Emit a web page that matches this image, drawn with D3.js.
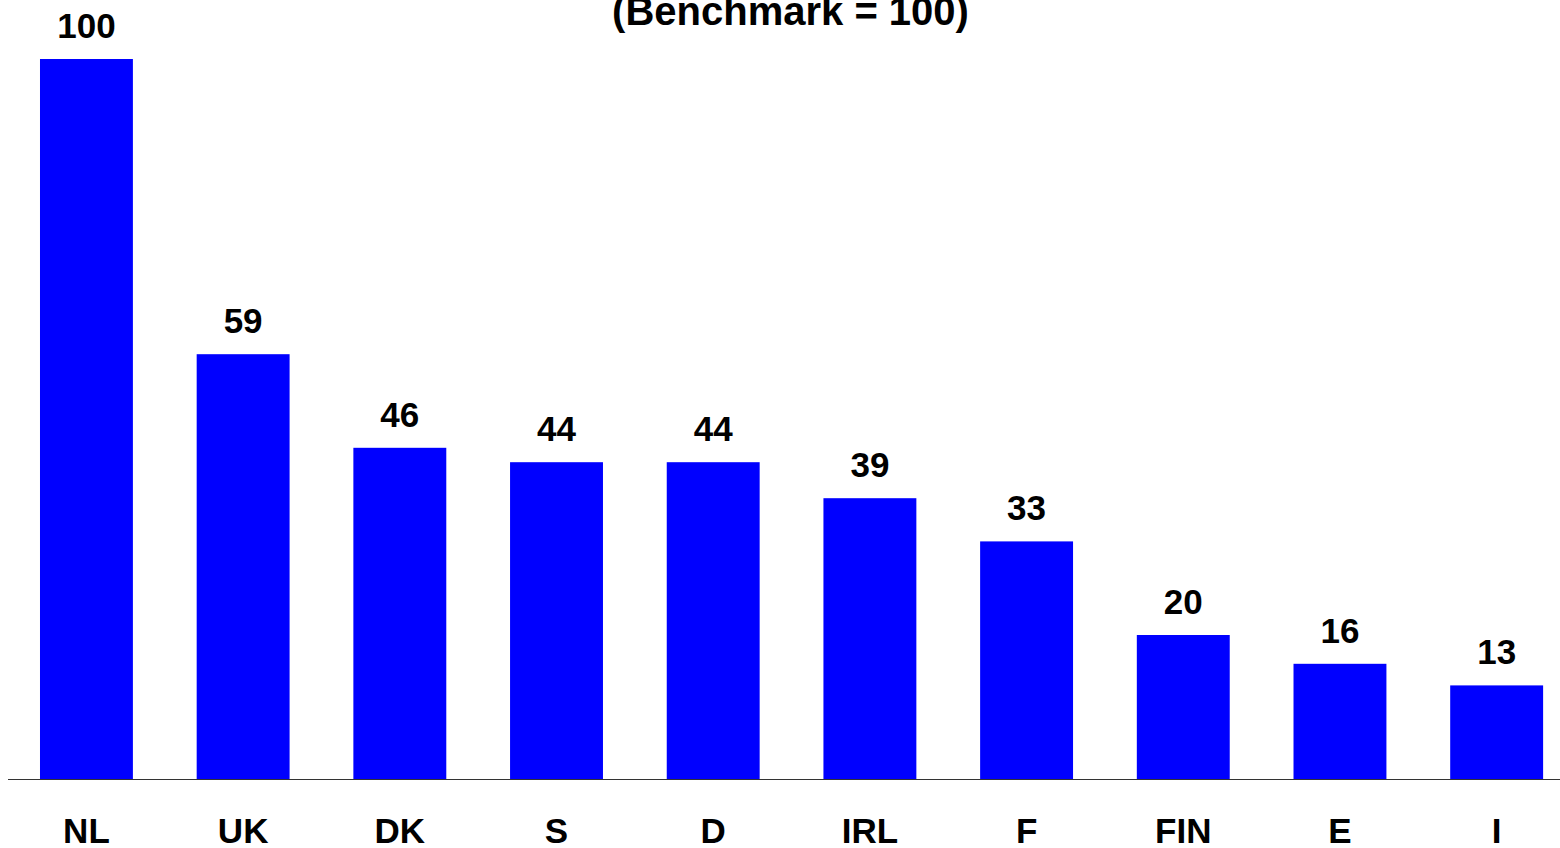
<!DOCTYPE html>
<html>
<head>
<meta charset="utf-8">
<script src="https://cdn.jsdelivr.net/npm/d3@7"></script>
<style>
  html, body { margin: 0; padding: 0; background: #fff; }
  svg { display: block; }
  text { font-family: "Liberation Sans", Arial, sans-serif; font-weight: bold; fill: #000; }
</style>
</head>
<body>
<svg id="chart" width="1560" height="848"></svg>
<script>
// Index per country, benchmark country = 100
const countries = ["NL", "UK", "DK", "S", "D", "IRL", "F", "FIN", "E", "I"];
const values = [100, 59, 46, 44, 44, 39, 33, 20, 16, 13];
const title = "(Benchmark = 100)";

const W = 1560, H = 848;
const baseY = 779;
const svg = d3.select("#chart");

const x = d3.scaleBand()
  .domain(countries)
  .range([8.1, 1575])
  .paddingInner(0.407)
  .paddingOuter(0.2035);

const y = d3.scaleLinear()
  .domain([0, 100])
  .range([baseY, 59]);

// Title (partly above the visible area)
svg.append("text")
  .attr("x", 790.5)
  .attr("y", 25)
  .attr("text-anchor", "middle")
  .style("font-size", "40px")
  .text(title);

// Bars
svg.selectAll("rect.bar")
  .data(values)
  .join("rect")
  .attr("class", "bar")
  .attr("x", (d, i) => x(countries[i]))
  .attr("width", x.bandwidth())
  .attr("y", d => y(d))
  .attr("height", d => y(0) - y(d))
  .attr("fill", "#0000ff");

// Value labels
svg.selectAll("text.val")
  .data(values)
  .join("text")
  .attr("class", "val")
  .attr("x", (d, i) => x(countries[i]) + x.bandwidth() / 2)
  .attr("y", d => y(d) - 21)
  .attr("text-anchor", "middle")
  .style("font-size", "35px")
  .text(d => d);

// Category axis
const axis = svg.append("g")
  .attr("transform", `translate(0,${baseY})`)
  .call(d3.axisBottom(x).tickSize(0).tickPadding(39));
axis.select(".domain").attr("d", `M8,0.5H${W}`).attr("stroke", "#333").attr("stroke-width", 1.2);
axis.selectAll(".tick text")
  .attr("dy", "0")
  .attr("y", 64)
  .style("font-size", "35px")
  .style("font-family", "'Liberation Sans', Arial, sans-serif")
  .style("font-weight", "bold")
  .attr("fill", "#000");
</script>
</body>
</html>
